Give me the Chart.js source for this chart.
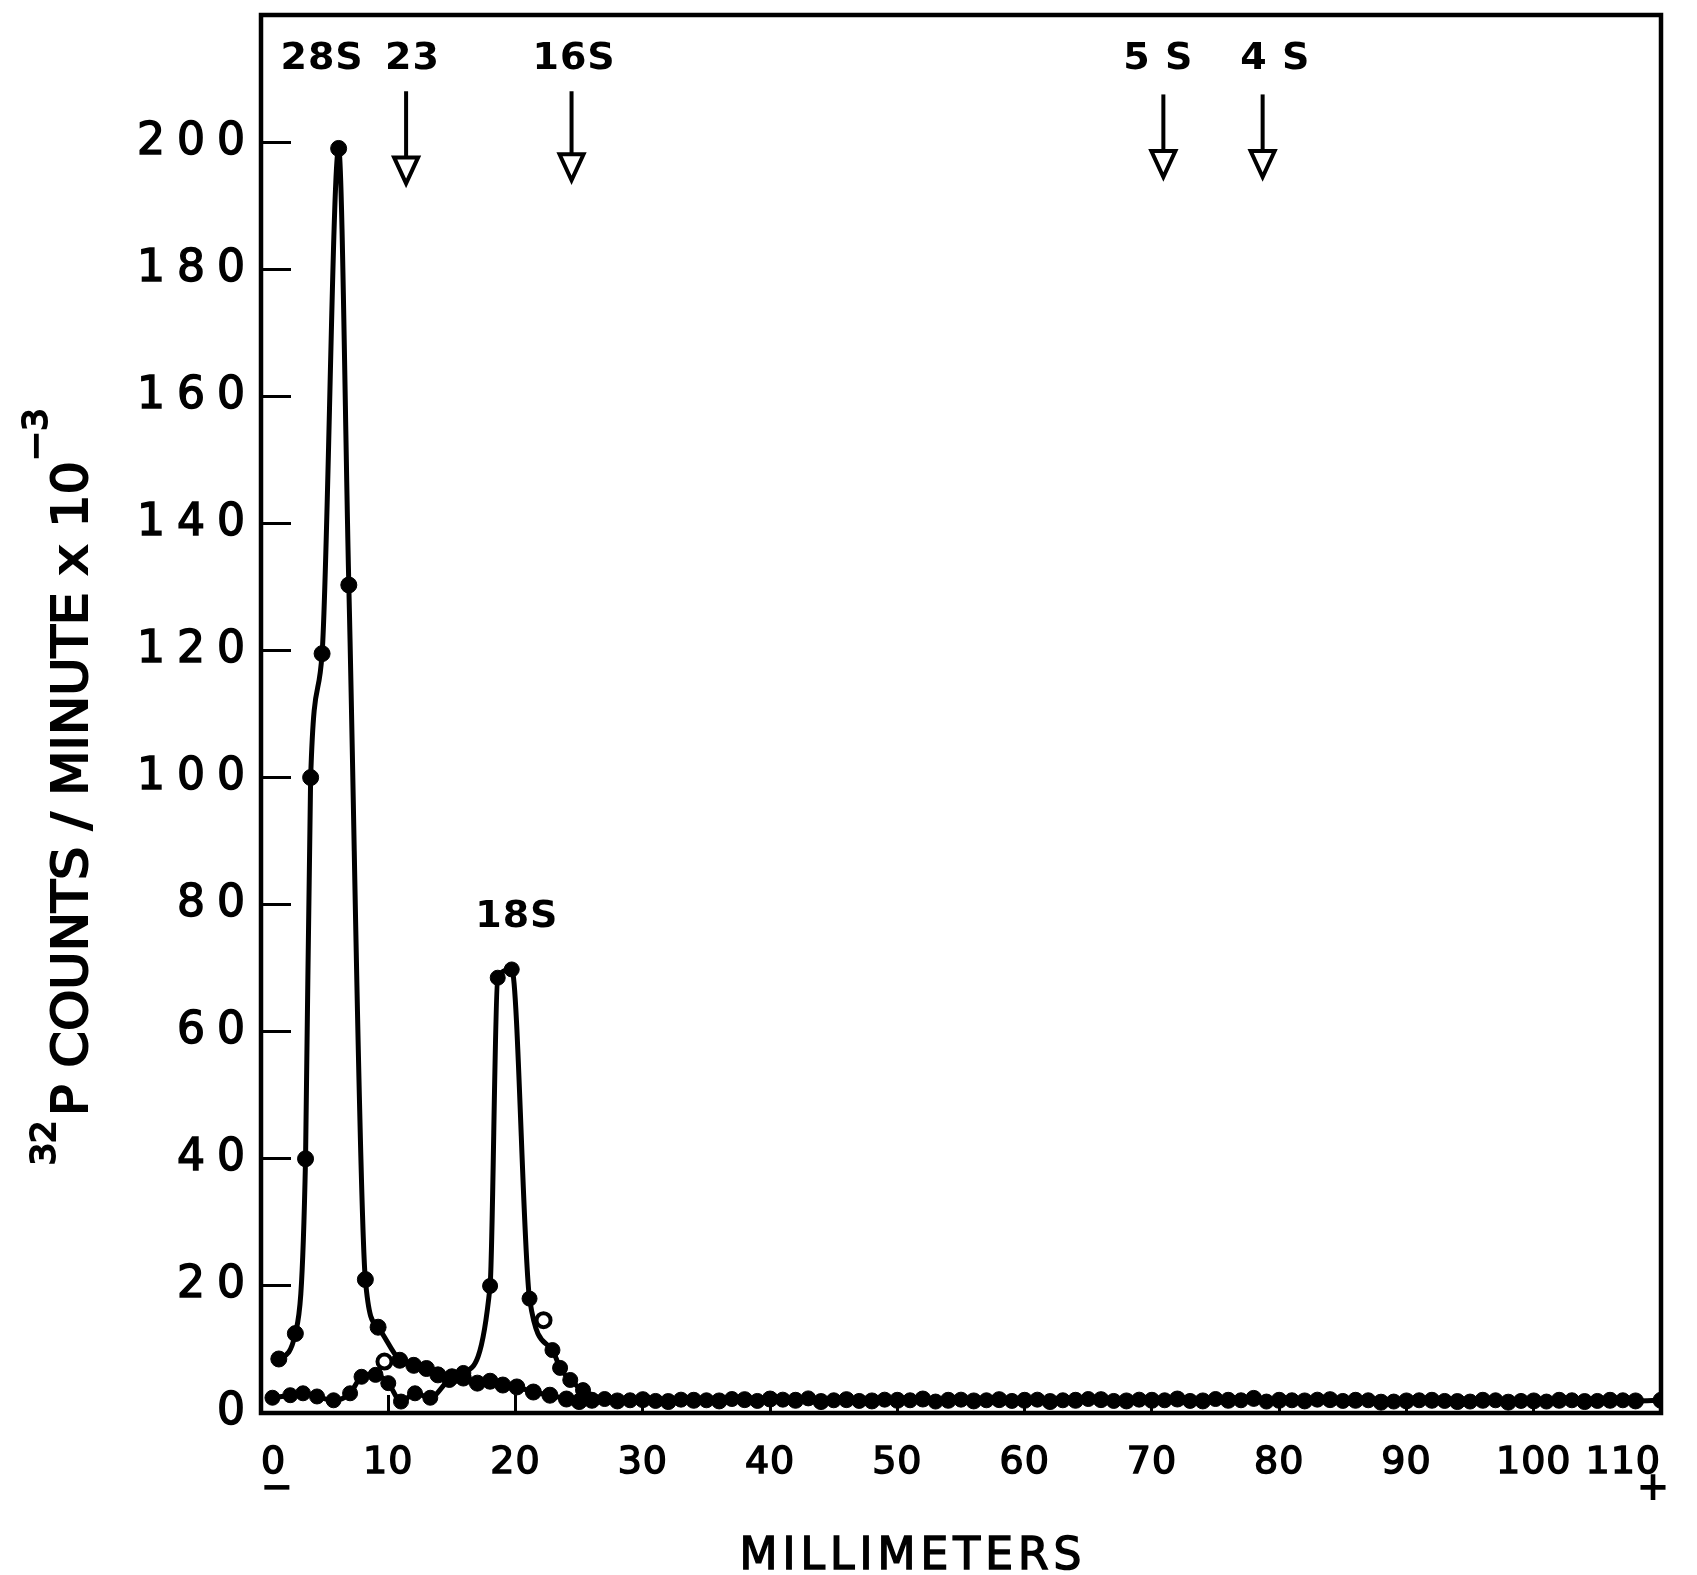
<!DOCTYPE html>
<html lang="en">
<head>
<meta charset="UTF-8">
<title>32P counts / minute vs millimeters</title>
<script src="https://cdn.jsdelivr.net/npm/chart.js@4"></script>
<style>
  html, body { margin: 0; padding: 0; background: #fff; }
  #wrap { width: 1697px; height: 1575px; }
</style>
</head>
<body>
<div id="wrap"><canvas id="gel" width="1697" height="1575"></canvas></div>
<script>
// profile with the 28S peak and its long tail
const mmA = [1.4, 2.7, 3.5, 3.9, 4.8, 6.1, 6.9, 8.2, 9.2, 10.9, 12.0, 13.0, 13.9, 15.0, 15.9,
  17.0, 18.0, 19.0, 20.1, 21.4, 22.7, 24.0, 25.0,
  26, 28, 30, 32, 34, 36, 38, 40, 42, 44, 46, 48, 50, 52, 54, 56, 58, 60, 62, 64, 66, 68,
  70, 72, 74, 76, 78, 80, 82, 84, 86, 88, 90, 92, 94, 96, 98, 100, 102, 104, 106, 108, 110];
const cpmA = [8.5, 12.5, 40, 100, 119.5, 199, 130.3, 21, 13.5, 8.3, 7.5, 7.0, 6.0, 5.7, 5.5,
  4.7, 5.0, 4.4, 4.1, 3.3, 2.8, 2.2, 1.8,
  2.0, 1.9, 2.1, 1.8, 2.0, 1.9, 2.1, 2.2, 2.0, 1.8, 2.1, 1.9, 2.0, 2.2, 2.0, 1.9, 2.1, 2.0, 1.8, 2.0, 2.1, 1.9,
  2.0, 2.2, 1.9, 2.0, 2.3, 2.0, 1.9, 2.1, 2.0, 1.7, 1.9, 2.0, 1.8, 2.0, 1.7, 1.9, 2.0, 1.8, 2.0, 1.9, 2.0];

// profile with the small bump and the 18S peak
const mmB = [0.9, 2.3, 3.3, 4.4, 5.7, 7.0, 7.9, 9.0, 10.0, 11.0, 12.1, 13.3, 14.8, 15.9,
  18.0, 18.6, 19.7, 21.1, 22.9, 23.5, 24.3, 25.3,
  27, 29, 31, 33, 35, 37, 39, 41, 43, 45, 47, 49, 51, 53, 55, 57, 59, 61, 63, 65, 67, 69,
  71, 73, 75, 77, 79, 81, 83, 85, 87, 89, 91, 93, 95, 97, 99, 101, 103, 105, 107, 109];
const cpmB = [2.4, 2.8, 3.1, 2.6, 2.0, 3.1, 5.7, 6.0, 4.7, 1.8, 3.1, 2.4, 5.2, 6.3,
  20, 68.5, 69.8, 18, 9.9, 7.1, 5.2, 3.6,
  2.2, 2.0, 1.9, 2.1, 2.0, 2.2, 1.9, 2.1, 2.3, 2.0, 1.9, 2.1, 2.0, 1.8, 2.1, 2.0, 1.9, 2.1, 2.0, 2.2, 1.9,
  2.1, 2.0, 1.9, 2.2, 2.0, 1.8, 2.0, 2.1, 1.9, 2.0, 1.8, 2.0, 1.9, 1.8, 2.0, 1.9, 1.8, 2.0, 1.9, 2.0];

// loose open circles
const mmOpen = [9.7, 22.2];
const cpmOpen = [8.1, 14.6];

const xTicks = [0, 10, 20, 30, 40, 50, 60, 70, 80, 90, 100, 110];
const yTicks = [0, 20, 40, 60, 80, 100, 120, 140, 160, 180, 200];

// marker names and their arrows
const markerNames = ['28S', '23', '16S', '5 S', '4 S', '18S'];
const markerX = [4.8, 11.9, 24.6, 70.5, 79.7, 20.1];
const markerY = [213, 213, 213, 213, 213, 78];
const arrowX = [11.4, 24.4, 70.9, 78.7];
const arrowTop = [208, 208, 207.5, 207.5];
const arrowTip = [193.5, 194, 194.5, 194.5];

const FONT = '"DejaVu Sans", "Liberation Sans", sans-serif';

const toPoints = (xs, ys) => xs.map((x, i) => ({ x: x, y: ys[i] }));

// wide letter spacing on the tick labels, different per axis
const scaleSpacing = { x: '1px', y: '12px' };
const spacing = {
  id: 'spacing',
  afterLayout(chart) {
    Object.keys(scaleSpacing).forEach(id => {
      const s = chart.scales[id];
      if (!s || s._spaced) return;
      const draw = s.drawLabels;
      s.drawLabels = function (area) {
        this.ctx.letterSpacing = scaleSpacing[id];
        draw.call(this, area);
        this.ctx.letterSpacing = '0px';
      };
      s._spaced = true;
    });
  }
};

const frame = {
  id: 'frame',
  beforeDatasetsDraw(chart) {
    const { ctx, chartArea: a } = chart;
    ctx.save();
    ctx.strokeStyle = '#000';
    ctx.lineWidth = 4.5;
    ctx.strokeRect(a.left, a.top, a.right - a.left, a.bottom - a.top);
    ctx.restore();
  }
};

const notes = {
  id: 'notes',
  afterDatasetsDraw(chart) {
    const { ctx } = chart;
    const x = chart.scales.x, y = chart.scales.y;
    ctx.save();
    ctx.letterSpacing = '1px';
    ctx.fillStyle = '#000';
    ctx.font = 'bold 38px ' + FONT;
    ctx.textAlign = 'center';
    ctx.textBaseline = 'middle';
    markerNames.forEach((name, i) => {
      ctx.fillText(name, x.getPixelForValue(markerX[i]), y.getPixelForValue(markerY[i]));
    });
    ctx.strokeStyle = '#000';
    ctx.lineWidth = 4;
    arrowX.forEach((v, i) => {
      const px = x.getPixelForValue(v);
      const top = y.getPixelForValue(arrowTop[i]);
      const tip = y.getPixelForValue(arrowTip[i]);
      const hh = 26, hw = 24;
      ctx.beginPath();
      ctx.moveTo(px, top);
      ctx.lineTo(px, tip - hh);
      ctx.stroke();
      ctx.beginPath();
      ctx.moveTo(px - hw / 2, tip - hh);
      ctx.lineTo(px + hw / 2, tip - hh);
      ctx.lineTo(px, tip);
      ctx.closePath();
      ctx.fillStyle = '#fff';
      ctx.fill();
      ctx.stroke();
    });
    ctx.restore();
  }
};

// fill plus a thin outline, to get the heavier ink of the original
function inkText(ctx, text, x, y) {
  ctx.fillText(text, x, y);
  ctx.strokeText(text, x, y);
}

const titles = {
  id: 'titles',
  afterDraw(chart) {
    const { ctx, chartArea: a } = chart;
    ctx.save();
    ctx.fillStyle = '#000';
    ctx.strokeStyle = '#000';
    ctx.lineWidth = 1.5;

    // x title and the - / + signs
    ctx.letterSpacing = '5px';
    ctx.font = '44px ' + FONT;
    ctx.textAlign = 'center';
    ctx.textBaseline = 'alphabetic';
    inkText(ctx, 'MILLIMETERS', 913, 1569);
    ctx.letterSpacing = '0px';
    ctx.font = 'bold 40px ' + FONT;
    ctx.textBaseline = 'middle';
    ctx.fillText('\u2212', a.left + 16, 1490);
    ctx.fillText('+', a.right - 8, 1490);

    // y title, rotated and condensed, with superscripts
    const main = 'P COUNTS / MINUTE x 10';
    ctx.translate(87, 787);
    ctx.rotate(-Math.PI / 2);
    ctx.textAlign = 'left';
    ctx.textBaseline = 'alphabetic';
    ctx.font = '50px ' + FONT;
    const wMain = ctx.measureText(main).width;
    const sx = 655 / wMain;
    ctx.font = '34px ' + FONT;
    const wPre = ctx.measureText('32').width;
    const wPost = ctx.measureText('\u22123').width;
    ctx.scale(sx, 1);
    ctx.lineWidth = 2;
    const total = wPre + 4 + wMain + wPost;
    let cx = -total / 2;
    inkText(ctx, '32', cx, -32);
    cx += wPre + 4;
    ctx.font = '50px ' + FONT;
    inkText(ctx, main, cx, 0);
    cx += wMain;
    ctx.font = '34px ' + FONT;
    inkText(ctx, '\u22123', cx, -40);
    ctx.restore();
  }
};

const zeroPad = s => { s.paddingLeft = 0; s.paddingRight = 0; s.paddingTop = 0; s.paddingBottom = 0; };

new Chart(document.getElementById('gel'), {
  type: 'line',
  data: {
    datasets: [
      {
        label: '28S profile',
        data: toPoints(mmA, cpmA),
        borderColor: '#000',
        borderWidth: 5,
        pointRadius: 8,
        pointBackgroundColor: '#000',
        pointBorderColor: '#000',
        pointBorderWidth: 1,
        cubicInterpolationMode: 'monotone',
        fill: false
      },
      {
        label: '18S profile',
        data: toPoints(mmB, cpmB),
        borderColor: '#000',
        borderWidth: 5,
        pointRadius: 7.5,
        pointBackgroundColor: '#000',
        pointBorderColor: '#000',
        pointBorderWidth: 1,
        cubicInterpolationMode: 'monotone',
        fill: false
      },
      {
        label: 'open circles',
        data: toPoints(mmOpen, cpmOpen),
        showLine: false,
        pointRadius: 7,
        pointBackgroundColor: '#fff',
        pointBorderColor: '#000',
        pointBorderWidth: 4
      }
    ]
  },
  options: {
    responsive: false,
    animation: false,
    devicePixelRatio: 1,
    layout: { padding: { left: 0, top: 15, right: 36, bottom: 0 } },
    plugins: {
      legend: { display: false },
      tooltip: { enabled: false }
    },
    scales: {
      x: {
        type: 'linear',
        min: 0,
        max: 110,
        afterBuildTicks: s => { s.ticks = xTicks.map(v => ({ value: v })); },
        afterFit: s => { s.height = 162; zeroPad(s); },
        border: { display: false },
        grid: { drawOnChartArea: false, drawTicks: true, tickLength: -18, lineWidth: 3, color: '#000' },
        ticks: {
          autoSkip: false,
          maxRotation: 0,
          align: 'inner',
          padding: 45,
          color: '#000',
          textStrokeColor: '#000',
          textStrokeWidth: 1.5,
          font: { family: FONT, size: 38 }
        }
      },
      y: {
        type: 'linear',
        min: 0,
        max: 220,
        afterBuildTicks: s => { s.ticks = yTicks.map(v => ({ value: v })); },
        afterFit: s => { s.width = 261; zeroPad(s); },
        border: { display: false },
        grid: { drawOnChartArea: false, drawTicks: true, tickLength: -30, lineWidth: 3, color: '#000' },
        ticks: {
          autoSkip: false,
          padding: 34,
          color: '#000',
          textStrokeColor: '#000',
          textStrokeWidth: 1.5,
          font: { family: FONT, size: 44 }
        }
      }
    }
  },
  plugins: [spacing, frame, notes, titles]
});
</script>
</body>
</html>
